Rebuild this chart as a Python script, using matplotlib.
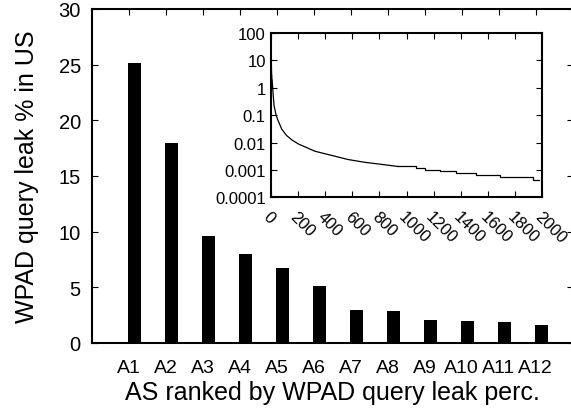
import numpy as np
import matplotlib
matplotlib.use("Agg")
import matplotlib.pyplot as plt

plt.rcParams['font.family'] = ['Liberation Sans', 'DejaVu Sans']

# top 12 ASes (percent of WPAD query leaks in the US)
as_names = ["A1", "A2", "A3", "A4", "A5", "A6", "A7", "A8", "A9", "A10", "A11", "A12"]
leak_pct = [25.1, 18.0, 9.6, 8.0, 6.7, 5.1, 3.0, 2.9, 2.1, 2.0, 1.85, 1.6]

# inset: all ASes, head of the curve
head_rank = [1, 2, 3, 4, 5, 6, 7, 8, 9, 10, 11, 12, 18, 25, 40, 51, 81, 117, 160,
             203, 326, 448, 570, 693, 816, 938]
head_pct = [25.1, 18.0, 9.6, 8.0, 6.7, 5.1, 3.0, 2.9, 2.1, 2.0, 1.85, 1.6, 0.6, 0.22,
            0.1, 0.07, 0.031, 0.018, 0.012, 0.0089, 0.0048, 0.0034, 0.0024, 0.0019,
            0.0016, 0.00134]
# inset tail is stepped
tail_rank = [938, 1073, 1134, 1244, 1367, 1514, 1686, 1931, 1975]
tail_pct = [0.00134, 0.00120, 0.00101, 0.00090, 0.00079, 0.00066, 0.00055, 0.00044, 0.00044]

fig = plt.figure(figsize=(5.71, 4.10), dpi=100)
ax = fig.add_axes([0.161, 0.161, 0.842, 0.815])

x = np.arange(len(as_names))
ax.bar(x + 0.16, leak_pct, width=0.36, color="black")
ax.set_xlim(-1, 12)
ax.set_ylim(0, 30)
ax.set_yticks(range(0, 31, 5))
ax.set_xticks(x)
ax.set_xticklabels(as_names, fontsize=14)
ax.tick_params(axis="y", direction="in", length=4, right=True, labelsize=14.5, pad=8)
ax.tick_params(axis="x", direction="in", length=4, top=True, pad=11.5)
# gnuplot style: ticks only on the top edge for the categories
for t in ax.xaxis.get_major_ticks():
    t.tick1line.set_visible(False)
ax.set_xlabel("AS ranked by WPAD query leak perc.", fontsize=18, labelpad=3)
ax.set_ylabel("WPAD query leak % in US", fontsize=18, labelpad=14)
for s in ax.spines.values():
    s.set_linewidth(1.5)

# inset
ins = fig.add_axes([0.474, 0.516, 0.476, 0.402])
ins.plot(head_rank, head_pct, color="black", lw=0.9)
ins.plot(tail_rank, tail_pct, color="black", lw=0.9, drawstyle="steps-post")
ins.set_yscale("log")
ins.set_ylim(1e-4, 100)
ins.set_xlim(0, 2000)
ins.set_yticks([1e-4, 1e-3, 1e-2, 0.1, 1, 10, 100])
ins.set_yticklabels(["0.0001", "0.001", "0.01", "0.1", "1", "10", "100"])
ins.set_xticks(range(0, 2001, 200))
ins.set_xticklabels([str(v) for v in range(0, 2001, 200)], rotation=-45,
                    ha="left", va="top", rotation_mode="anchor")
ins.tick_params(which="both", direction="in", top=True, right=True, labelsize=12)
ins.tick_params(axis="x", pad=8)
ins.tick_params(which="major", length=4)
ins.tick_params(which="minor", length=2)
for s in ins.spines.values():
    s.set_linewidth(1.5)

fig.savefig("out.png", dpi=100)
